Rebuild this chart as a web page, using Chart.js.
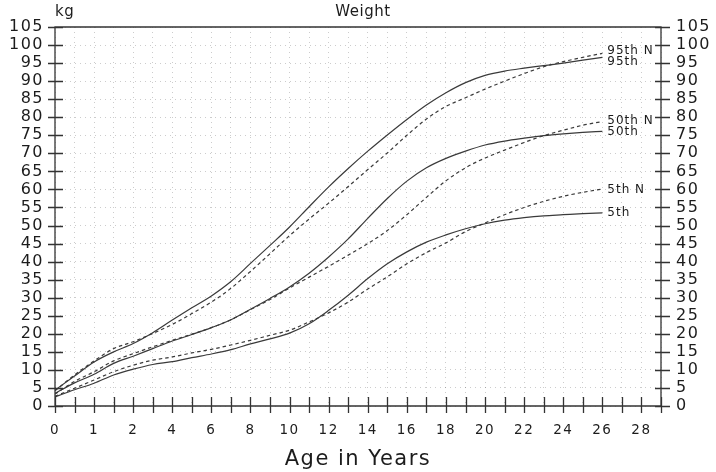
<!DOCTYPE html>
<html>
<head>
<meta charset="utf-8">
<title>Weight</title>
<script src="https://cdn.jsdelivr.net/npm/chart.js@4.4.0/dist/chart.umd.min.js"></script>
<style>
  html, body { margin: 0; padding: 0; background: #fff; }
  canvas { display: block; }
</style>
</head>
<body>
<canvas id="weight" width="716" height="472"></canvas>
<script>
// ages in years, values in kg
const ages = [0, 0.5, 1, 1.5, 2, 3, 4, 5, 6, 7, 8, 9, 10, 11, 12, 13, 14, 15, 16, 17, 18, 19, 20, 21, 22, 23, 24, 25, 26];

const p95n = [4.2, 8.6, 12.5, 15.9, 17.8, 20.1, 22.6, 25.6, 28.8, 32.6, 37.3, 42.2, 47.2, 51.8, 56.2, 60.8, 65.5, 70.1, 75.0, 79.5, 83.0, 85.4, 87.8, 90.0, 92.1, 94.0, 95.4, 96.6, 97.7];
const p95 = [4.4, 8.3, 12.2, 15.0, 17.3, 20.3, 23.8, 27.2, 30.5, 34.5, 39.5, 44.5, 49.6, 55.2, 60.7, 65.8, 70.6, 75.1, 79.4, 83.4, 86.8, 89.6, 91.6, 92.8, 93.6, 94.3, 95.0, 95.8, 96.6];
const p50n = [3.3, 6.8, 9.5, 12.5, 14.5, 16.4, 18.2, 19.9, 21.7, 23.9, 26.7, 29.5, 32.7, 35.7, 38.7, 41.8, 45.0, 48.6, 53.0, 57.8, 62.4, 66.0, 68.7, 70.9, 73.0, 74.9, 76.4, 77.8, 78.8];
const p50 = [3.5, 6.4, 8.8, 11.8, 13.8, 15.9, 18.0, 19.8, 21.7, 23.9, 26.8, 29.8, 33.0, 36.8, 41.3, 46.3, 52.0, 57.5, 62.3, 66.0, 68.6, 70.6, 72.3, 73.4, 74.2, 74.9, 75.4, 75.8, 76.1];
const p5n = [2.7, 4.9, 7.2, 9.5, 11.3, 12.7, 13.6, 14.7, 15.7, 16.9, 18.2, 19.6, 21.0, 23.3, 25.8, 28.8, 32.4, 35.8, 39.4, 42.5, 45.2, 48.3, 50.7, 53.0, 55.0, 56.7, 58.1, 59.2, 60.1];
const p5 = [2.5, 4.5, 6.3, 8.6, 10.2, 11.5, 12.3, 13.4, 14.4, 15.6, 17.2, 18.6, 20.2, 22.8, 26.5, 30.7, 35.3, 39.4, 42.7, 45.4, 47.4, 49.1, 50.5, 51.5, 52.2, 52.7, 53.0, 53.3, 53.5];

const seriesNames = ['95th N', '95th', '50th N', '50th', '5th N', '5th'];
const seriesValues = [p95n, p95, p50n, p50, p5n, p5];

// labelled ages on the x axis (half-year steps up to 2, then yearly)
const ageTicks = [0, 1, 2, 4, 6, 8, 10, 12, 14, 16, 18, 20, 22, 24, 26, 28];

// position on the axis: half years count as one step until age 2
function agePos(a) { return a <= 2 ? a * 2 : a + 2; }
function posAge(p) { return p <= 4 ? p / 2 : p - 2; }

const ink = '#1c1c1c';
const lineInk = '#3a3a3a';
const gridInk = 'rgba(0,0,0,0.2)';

const datasets = seriesNames.map((name, i) => ({
  label: name,
  data: ages.map((a, j) => ({ x: agePos(a), y: seriesValues[i][j] })),
  borderColor: lineInk,
  borderWidth: 1.2,
  borderDash: name.endsWith('N') ? [3.5, 3] : [],
  pointRadius: 0,
  fill: false,
  cubicInterpolationMode: 'monotone'
}));

// label nudge so 95th / 95th N do not collide
const labelShift = [-2, 5, -1, 1, 1, 0];

// the old plotter font is wide: spread the axis text a little
const spacingPlugin = {
  id: 'spacing',
  beforeDraw(chart) { chart.ctx.letterSpacing = '1.5px'; },
  beforeDatasetsDraw(chart) { chart.ctx.letterSpacing = '0px'; }
};

const framePlugin = {
  id: 'frame',
  afterDraw(chart) {
    const { ctx, chartArea: a, scales: { x, y } } = chart;
    ctx.save();
    ctx.strokeStyle = '#333';
    ctx.lineWidth = 1.3;
    ctx.beginPath();
    ctx.rect(a.left, a.top, a.right - a.left, a.bottom - a.top);
    y.ticks.forEach(t => {
      const py = Math.round(y.getPixelForValue(t.value)) + 0.5;
      ctx.moveTo(a.left - 7, py); ctx.lineTo(a.left + 8, py);
      ctx.moveTo(a.right - 6, py); ctx.lineTo(a.right + 9, py);
    });
    x.ticks.forEach(t => {
      const px = Math.round(x.getPixelForValue(t.value)) + 0.5;
      ctx.moveTo(px, a.bottom - 9); ctx.lineTo(px, a.bottom + 7);
    });
    ctx.stroke();

    ctx.fillStyle = ink;
    ctx.textBaseline = 'middle';
    ctx.letterSpacing = '0.5px';
    ctx.font = '15px "DejaVu Sans"';
    ctx.textAlign = 'left';
    ctx.fillText('kg', 55, 12);
    ctx.textAlign = 'center';
    ctx.fillText('Weight', 363, 12);

    ctx.textAlign = 'left';
    ctx.font = '12px "DejaVu Sans"';
    ctx.letterSpacing = '1px';
    chart.data.datasets.forEach((ds, i) => {
      const pts = chart.getDatasetMeta(i).data;
      const last = pts[pts.length - 1];
      ctx.fillText(ds.label, last.x + 5, last.y + labelShift[i]);
    });
    ctx.restore();
  }
};

const tickFont = { family: 'DejaVu Sans', size: 16 };

new Chart(document.getElementById('weight'), {
  type: 'line',
  data: { datasets },
  options: {
    responsive: false,
    animation: false,
    layout: { padding: { top: 27, left: 0, right: 0, bottom: 0 } },
    plugins: { legend: { display: false }, tooltip: { enabled: false } },
    scales: {
      x: {
        type: 'linear',
        min: 0,
        max: 31,
        afterFit: s => { s.height = 66; },
        grid: { color: gridInk, drawTicks: false },
        border: { display: false, dash: [1, 4] },
        ticks: {
          stepSize: 1,
          autoSkip: false,
          maxRotation: 0,
          padding: 16,
          color: ink,
          font: { family: 'DejaVu Sans', size: 13.5 },
          callback: v => ageTicks.includes(posAge(v)) ? String(posAge(v)) : ''
        },
        title: {
          display: true,
          text: 'Age in Years',
          color: ink,
          font: { family: 'DejaVu Sans', size: 21 },
          padding: 0
        }
      },
      y: {
        position: 'left',
        min: 0,
        max: 105,
        afterFit: s => { s.width = 55; },
        grid: { color: gridInk, drawTicks: false },
        border: { display: false, dash: [1, 4] },
        ticks: { stepSize: 5, autoSkip: false, padding: 11, color: ink, font: tickFont }
      },
      y2: {
        position: 'right',
        min: 0,
        max: 105,
        afterFit: s => { s.width = 55; },
        grid: { display: false, drawTicks: false },
        border: { display: false },
        ticks: { stepSize: 5, autoSkip: false, padding: 15, color: ink, font: tickFont }
      }
    }
  },
  plugins: [spacingPlugin, framePlugin]
});
</script>
</body>
</html>
